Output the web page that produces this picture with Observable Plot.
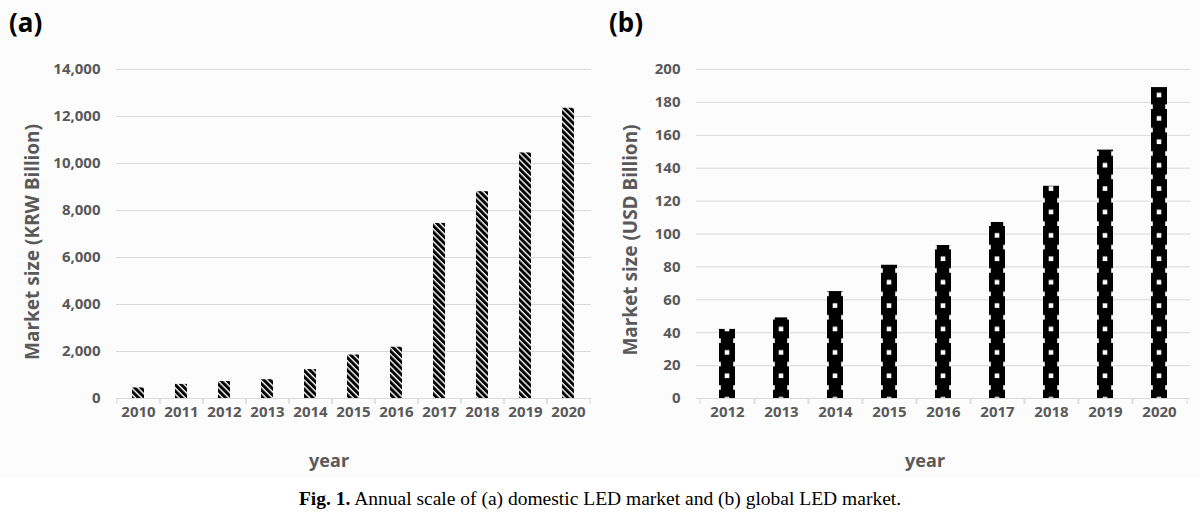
<!DOCTYPE html>
<html><head><meta charset="utf-8">
<script src="https://cdn.jsdelivr.net/npm/d3@7"></script>
<script src="https://cdn.jsdelivr.net/npm/@observablehq/plot@0.6"></script>
<style>
body{margin:0;background:#fff;}
#wrap{position:relative;width:1200px;height:518px;overflow:hidden;background:#fff;}
#panel{position:absolute;left:0;top:0;width:1200px;height:478px;background:#fcfcfc;}
.abs{position:absolute;white-space:nowrap;}
.tag{font-family:"Noto Sans",sans-serif;font-weight:bold;font-size:26px;color:#000;top:4px;}
.ylab{font-family:"Noto Sans",sans-serif;font-weight:bold;font-size:19px;color:#595959;transform:translate(-50%,-50%) rotate(-90deg);}
.xlab{font-family:"Noto Sans",sans-serif;font-weight:bold;font-size:18px;color:#595959;transform:translate(-50%,-50%);}
.caption{font-family:"Liberation Serif","Times New Roman",serif;font-size:19.5px;color:#000;left:600px;top:499px;transform:translate(-50%,-50%);}
</style></head><body>
<div id="wrap">
  <div id="panel"></div>
  <div id="chartA" class="abs" style="left:0;top:0"></div>
  <div id="chartB" class="abs" style="left:600px;top:0"></div>
  <div class="abs tag" style="left:9px">(a)</div>
  <div class="abs tag" style="left:609px">(b)</div>
  <div class="abs ylab" style="left:32px;top:242px">Market size (KRW Billion)</div>
  <div class="abs ylab" style="left:630px;top:240px">Market size (USD Billion)</div>
  <div class="abs xlab" style="left:329px;top:460px">year</div>
  <div class="abs xlab" style="left:925px;top:460px">year</div>
  <div class="abs caption"><b>Fig. 1.</b> Annual scale of (a) domestic LED market and (b) global LED market.</div>
</div>
<script>
// Panel (a): domestic LED market (KRW Billion)
const yearsA = ["2010","2011","2012","2013","2014","2015","2016","2017","2018","2019","2020"];
const valuesA = [450, 600, 720, 800, 1230, 1850, 2180, 7450, 8800, 10450, 12350];
const yTicksA = [0, 2000, 4000, 6000, 8000, 10000, 12000, 14000];

// Panel (b): global LED market (USD Billion)
const yearsB = ["2012","2013","2014","2015","2016","2017","2018","2019","2020"];
const valuesB = [42, 49, 65, 81, 93, 107, 129, 151, 189];
const yTicksB = [0, 20, 40, 60, 80, 100, 120, 140, 160, 180, 200];

const dataA = yearsA.map((year, i) => ({year, value: valuesA[i]}));
const dataB = yearsB.map((year, i) => ({year, value: valuesB[i]}));

const ns = "http://www.w3.org/2000/svg";
function addDefs(svg, html) {
  const defs = document.createElementNS(ns, "defs");
  defs.innerHTML = html;
  svg.insertBefore(defs, svg.firstChild);
}

function makeChart({years, data, ticks, domain, fmt, fill, marginLeft, marginRight}) {
  const W = 600, H = 480, mt = 69, mb = 82;
  const step = (W - marginLeft - marginRight) / years.length;
  return Plot.plot({
    width: W, height: H,
    marginLeft, marginRight, marginTop: mt, marginBottom: mb,
    style: {background: "transparent", fontFamily: "'Noto Sans', sans-serif", fontSize: "15px", fontWeight: "bold", color: "#595959"},
    x: {type: "band", domain: years, paddingInner: 0.71, paddingOuter: 0.355, label: null},
    y: {domain, label: null},
    marks: [
      Plot.gridY(ticks, {stroke: "#d9d9d9", strokeOpacity: 1}),
      Plot.axisY(ticks, {tickSize: 0, tickPadding: 16, tickFormat: fmt, label: null, fill: "#595959"}),
      Plot.axisX({tickSize: 0, tickPadding: 8, label: null, fill: "#595959"}),
      Plot.axisX({tickSize: 6, text: null, dx: step / 2, stroke: "#d9d9d9", label: null}),
      Plot.axisX({tickSize: 6, text: null, dx: -step / 2, stroke: "#d9d9d9", label: null}),
      Plot.barY(data, {x: "year", y: "value", fill})
    ]
  });
}

const svgA = makeChart({years: yearsA, data: dataA, ticks: yTicksA, domain: [0, 14000], fmt: d3.format(","), fill: "url(#stripesA)", marginLeft: 116, marginRight: 9});
addDefs(svgA, `<pattern id="stripesA" patternUnits="userSpaceOnUse" width="4.4" height="4.4" patternTransform="rotate(-45)">
  <rect width="4.4" height="4.4" fill="#fff"/><rect width="3" height="4.4" fill="#000"/></pattern>`);
document.getElementById("chartA").appendChild(svgA);

const svgB = makeChart({years: yearsB, data: dataB, ticks: yTicksB, domain: [0, 200], fmt: d3.format("d"), fill: "url(#dotsB)", marginLeft: 96, marginRight: 10});
document.getElementById("chartB").appendChild(svgB);
{
  const rects = svgB.querySelectorAll('g[aria-label="bar"] rect');
  const x0 = +rects[0].getAttribute("x");
  const bw = +rects[0].getAttribute("width");
  const st = +rects[1].getAttribute("x") - x0;
  const ph = 23.4, sq = 4.6;
  addDefs(svgB, `<pattern id="dotsB" patternUnits="userSpaceOnUse" x="${x0}" y="69" width="${st}" height="${ph}">
    <rect width="${st}" height="${ph}" fill="#000"/>
    <rect x="${bw/2 - sq/2}" y="${2.6 - sq/2}" width="${sq}" height="${sq}" fill="#fff"/>
    <rect x="0" y="${2.6 + ph/2 - sq/2}" width="1.8" height="${sq}" fill="#fff"/>
    <rect x="${bw - 1.8}" y="${2.6 + ph/2 - sq/2}" width="1.8" height="${sq}" fill="#fff"/>
  </pattern>`);
}
</script>
</body></html>
